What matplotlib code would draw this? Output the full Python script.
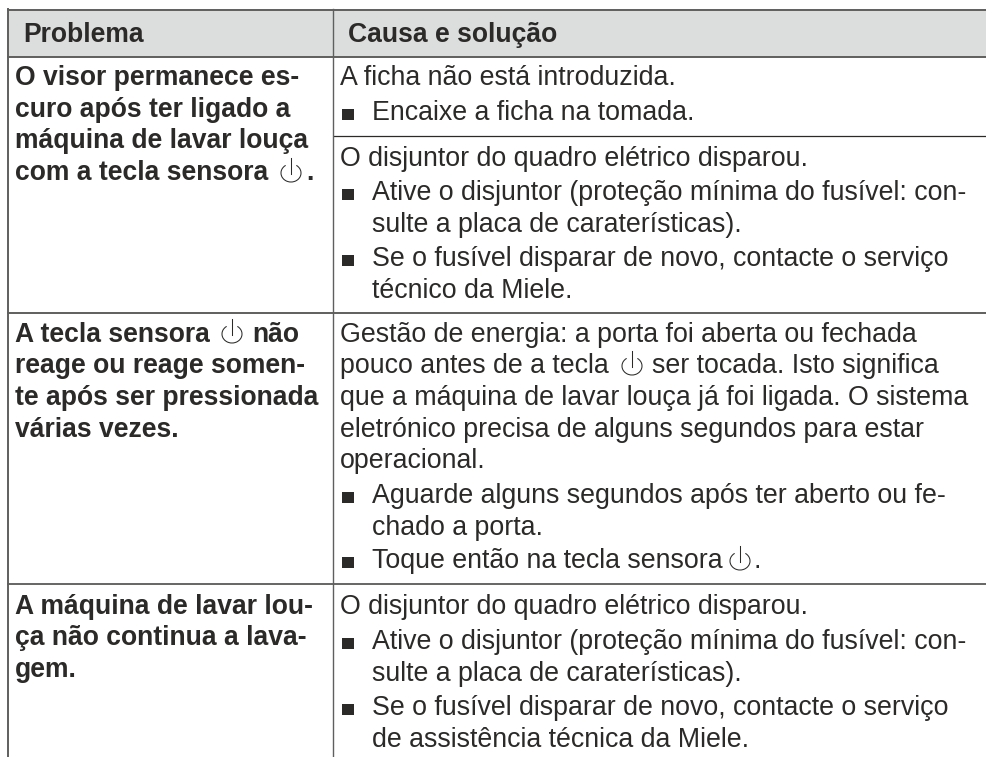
import matplotlib
matplotlib.use("Agg")
import matplotlib.pyplot as plt
from matplotlib.patches import Rectangle, Arc

W, H = 987, 757
FONT = "Liberation Sans"
BOLD_SIZE = 19.1
TEXT_SIZE = 19.25
INK = "#2b2a29"
LINE = "#5f5f5e"

headers = ["Problema", "Causa e solução"]

# text, baseline y
left_lines = [
    ("O visor permanece es-", 85), ("curo após ter ligado a", 117),
    ("máquina de lavar louça", 148), ("com a tecla sensora", 180),
    ("A tecla sensora", 342), ("reage ou reage somen-", 373),
    ("te após ser pressionada", 405), ("várias vezes.", 437),
    ("A máquina de lavar lou-", 614), ("ça não continua a lava-", 645),
    ("gem.", 677),
]

# text, baseline y, x indent kind: 0 plain, 1 bullet, 2 continuation
right_lines = [
    ("A ficha não está introduzida.", 85, 0),
    ("Encaixe a ficha na tomada.", 120, 1),
    ("O disjuntor do quadro elétrico disparou.", 166, 0),
    ("Ative o disjuntor (proteção mínima do fusível: con-", 200, 1),
    ("sulte a placa de caraterísticas).", 232, 2),
    ("Se o fusível disparar de novo, contacte o serviço", 266, 1),
    ("técnico da Miele.", 298, 2),
    ("Gestão de energia: a porta foi aberta ou fechada", 342, 0),
    ("pouco antes de a tecla", 373, 0),
    ("que a máquina de lavar louça já foi ligada. O sistema", 405, 0),
    ("eletrónico precisa de alguns segundos para estar", 437, 0),
    ("operacional.", 468, 0),
    ("Aguarde alguns segundos após ter aberto ou fe-", 503, 1),
    ("chado a porta.", 535, 2),
    ("Toque então na tecla sensora", 568, 1),
    ("O disjuntor do quadro elétrico disparou.", 614, 0),
    ("Ative o disjuntor (proteção mínima do fusível: con-", 649, 1),
    ("sulte a placa de caraterísticas).", 681, 2),
    ("Se o fusível disparar de novo, contacte o serviço", 715, 1),
    ("de assistência técnica da Miele.", 747, 2),
]

# text that follows a power symbol: text, x, baseline y, bold
tails = [
    ("não", 252, 342, True),
    ("ser tocada. Isto significa", 652, 373, False),
    (".", 306, 180, True),
    (".", 754, 568, False),
]

# power symbol centres
symbols = [(291, 173), (232, 334), (632, 366), (740, 561)]

fig = plt.figure(figsize=(W / 100, H / 100), dpi=100)
ax = fig.add_axes([0, 0, 1, 1])
ax.set_xlim(0, W)
ax.set_ylim(H, 0)
ax.axis("off")

ax.add_patch(Rectangle((7, 9), 980, 48, fc="#dcdddd", ec="none"))


def hline(y, x0, x1, lw, color=LINE):
    ax.plot([x0, x1], [y, y], color=color, lw=lw, solid_capstyle="butt")


def power(x, y):
    ax.add_patch(Arc((x, y), 20, 18, theta1=-55, theta2=235, color=INK, lw=0.75))
    ax.plot([x, x], [y + 1, y - 15], color=INK, lw=0.75)


hline(9.5, 7, W, 1.4)
hline(57, 7, W, 1.4)
hline(136, 333, W, 0.9, INK)
hline(312.5, 7, W, 1.4)
hline(584, 7, W, 1.1, "#3c3c3b")
ax.plot([7.5, 7.5], [9, H], color=LINE, lw=1.4)
ax.plot([332.5, 332.5], [9, H], color=LINE, lw=1)

ax.text(23, 42, headers[0], family=FONT, weight="bold", fontsize=BOLD_SIZE, color=INK)
ax.text(348, 42, headers[1], family=FONT, weight="bold", fontsize=BOLD_SIZE, color=INK)

for s, y in left_lines:
    ax.text(15, y, s, family=FONT, weight="bold", fontsize=BOLD_SIZE, color=INK)

for s, y, kind in right_lines:
    x = 340 if kind == 0 else 372
    ax.text(x, y, s, family=FONT, fontsize=TEXT_SIZE, color=INK)
    if kind == 1:
        ax.add_patch(Rectangle((342, y - 11), 12, 11, fc=INK, ec="none"))

for s, x, y, bold in tails:
    ax.text(x, y, s, family=FONT, weight="bold" if bold else "normal",
            fontsize=BOLD_SIZE if bold else TEXT_SIZE, color=INK)

for x, y in symbols:
    power(x, y)

fig.savefig("out.png", dpi=100)
